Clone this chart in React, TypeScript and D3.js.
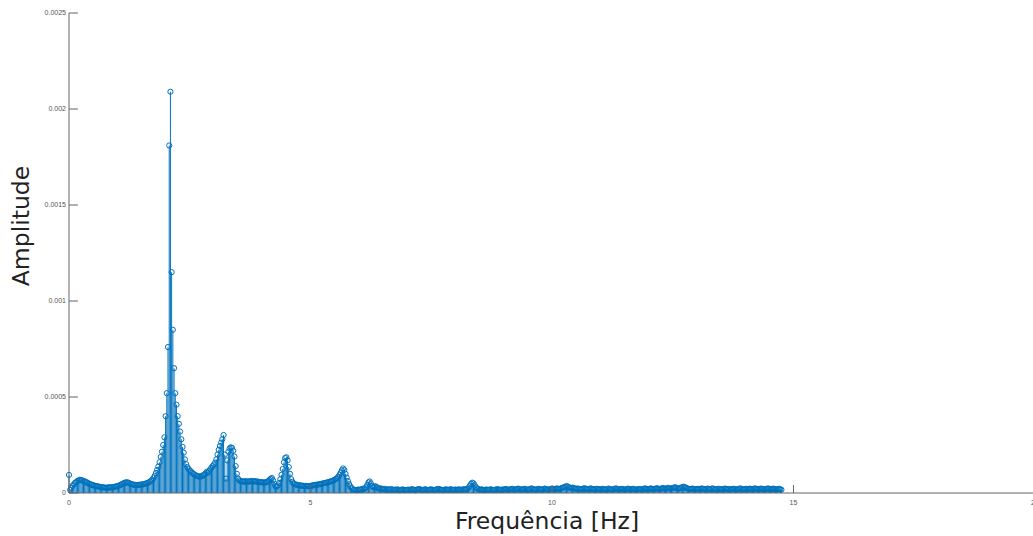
import React from "react";
import * as d3 from "d3";

// FFT magnitude spectrum, drawn as a stem plot.
const FREQ_STEP = 0.025; // Hz between bins
const AMP_UNIT = 1e-6; // bands below are listed in micro-units of amplitude

// 0.000 – 0.975 Hz
const band0 = [94, 16, 28, 38, 45, 53, 57, 63, 65, 69, 67, 66, 62, 61, 56, 55, 50, 48, 44, 43, 40, 39, 36, 36, 34, 33, 31, 31, 29, 29, 28, 27, 28, 30, 28, 30, 31, 30, 33, 34];
// 1.000 – 1.975 Hz
const band1 = [36, 38, 40, 43, 47, 50, 53, 55, 56, 54, 51, 48, 46, 44, 43, 42, 41, 42, 43, 43, 44, 45, 46, 48, 50, 52, 55, 59, 64, 70, 78, 90, 104, 120, 138, 160, 188, 215, 250, 290];
// 2.000 – 2.975 Hz
const band2 = [400, 520, 760, 1810, 2090, 1150, 850, 650, 520, 460, 400, 360, 320, 280, 240, 210, 175, 150, 135, 125, 118, 112, 106, 100, 96, 92, 89, 87, 85, 86, 88, 92, 96, 102, 110, 106, 115, 124, 132, 140];
// 3.000 – 3.975 Hz
const band3 = [148, 158, 175, 200, 225, 245, 262, 280, 302, 200, 75, 170, 215, 232, 238, 235, 220, 190, 140, 100, 75, 66, 62, 60, 61, 59, 62, 60, 58, 61, 60, 63, 61, 60, 62, 59, 60, 58, 56, 57];
// 4.000 – 4.975 Hz
const band4 = [55, 56, 54, 55, 58, 62, 68, 74, 78, 66, 48, 36, 34, 40, 52, 72, 95, 125, 160, 182, 186, 170, 135, 100, 72, 58, 50, 46, 44, 42, 41, 40, 38, 39, 37, 36, 37, 36, 35, 36];
// 5.000 – 5.975 Hz
const band5 = [37, 38, 40, 41, 42, 43, 44, 45, 46, 48, 49, 51, 52, 54, 55, 57, 59, 61, 63, 66, 69, 73, 78, 85, 94, 105, 118, 128, 120, 100, 80, 62, 46, 34, 26, 20, 17, 16, 15, 17];
// 6.000 – 6.975 Hz
const band6 = [18, 16, 19, 22, 20, 24, 30, 42, 55, 60, 50, 36, 30, 34, 35, 30, 24, 22, 25, 21, 19, 22, 18, 17, 20, 16, 18, 21, 17, 15, 18, 16, 19, 17, 14, 16, 19, 17, 15, 16];
// 7.000 – 7.975 Hz
const band7 = [16, 18, 15, 17, 20, 18, 16, 14, 17, 19, 21, 18, 16, 15, 17, 20, 17, 15, 16, 18, 19, 17, 15, 16, 18, 20, 22, 19, 17, 16, 15, 17, 19, 18, 16, 17, 20, 18, 16, 17];
// 8.000 – 8.975 Hz
const band8 = [18, 16, 17, 19, 17, 16, 18, 20, 19, 17, 22, 28, 38, 48, 54, 50, 40, 30, 24, 20, 18, 17, 19, 16, 15, 17, 18, 16, 17, 19, 18, 16, 15, 17, 19, 20, 18, 16, 17, 18];
// 9.000 – 9.975 Hz
const band9 = [17, 19, 21, 18, 16, 18, 20, 22, 19, 17, 18, 21, 23, 20, 18, 17, 19, 22, 20, 18, 16, 19, 21, 24, 21, 19, 17, 18, 20, 22, 19, 17, 18, 20, 23, 21, 18, 17, 19, 21];
// 10.000 – 10.975 Hz
const band10 = [20, 22, 19, 21, 24, 22, 20, 23, 26, 28, 30, 33, 36, 34, 30, 27, 25, 28, 26, 23, 21, 24, 22, 20, 19, 21, 23, 25, 22, 20, 19, 21, 24, 22, 20, 18, 20, 22, 21, 19];
// 11.000 – 11.975 Hz
const band11 = [18, 20, 22, 19, 17, 19, 21, 23, 20, 18, 17, 19, 22, 24, 21, 19, 18, 20, 22, 19, 17, 18, 21, 23, 20, 18, 19, 22, 20, 18, 17, 19, 21, 20, 18, 19, 22, 24, 21, 19];
// 12.000 – 12.975 Hz
const band12 = [20, 22, 24, 21, 19, 21, 23, 25, 22, 20, 22, 24, 26, 23, 21, 24, 27, 25, 22, 24, 26, 28, 30, 27, 24, 22, 25, 28, 31, 33, 30, 27, 24, 22, 20, 21, 23, 22, 20, 19];
// 13.000 – 13.975 Hz
const band13 = [20, 22, 19, 21, 24, 22, 20, 18, 21, 23, 20, 19, 22, 24, 21, 19, 17, 20, 22, 21, 19, 18, 20, 23, 22, 20, 19, 21, 18, 20, 22, 21, 19, 17, 20, 22, 24, 21, 19, 18];
// 14.000 – 14.750 Hz
const band14 = [20, 22, 19, 21, 23, 20, 18, 21, 24, 22, 20, 19, 21, 23, 22, 20, 18, 20, 22, 24, 21, 19, 20, 23, 21, 19, 18, 20, 22, 19, 17];

const amplitudes = [
  ...band0, ...band1, ...band2, ...band3, ...band4, ...band5, ...band6, ...band7,
  ...band8, ...band9, ...band10, ...band11, ...band12, ...band13, ...band14,
].map((v) => v * AMP_UNIT);

const points = amplitudes.map((a, i) => ({ f: i * FREQ_STEP, a }));

const xTicks = [0, 5, 10, 15, 20];
const yTicks = [0, 0.0005, 0.001, 0.0015, 0.002, 0.0025];
const yTickLabels = ["0", "0.0005", "0.001", "0.0015", "0.002", "0.0025"];

const W = 1033;
const H = 536;
const M = { left: 69, top: 13, right: -2, bottom: 43 };

const STEM = "#0072BD";
const AXIS = "#666666";
const TICK_TEXT = "#555555";

export default function App() {
  const x = d3.scaleLinear().domain([0, 20]).range([M.left, W - M.right]);
  const y = d3.scaleLinear().domain([0, 0.0025]).range([H - M.bottom, M.top]);
  const y0 = y(0);

  return (
    <svg
      width={W}
      height={H}
      style={{ position: "absolute", left: 0, top: 0, background: "#fff" }}
      fontFamily="'Liberation Sans', Arial, sans-serif"
    >
      {/* stems */}
      <g stroke={STEM} strokeWidth={1}>
        {points.map((p, i) => (
          <line key={i} x1={x(p.f)} x2={x(p.f)} y1={y0} y2={y(p.a)} />
        ))}
      </g>
      {/* open circle markers */}
      <g fill="none" stroke={STEM} strokeWidth={1}>
        {points.map((p, i) => (
          <circle key={i} cx={x(p.f)} cy={y(p.a)} r={2.6} />
        ))}
      </g>

      {/* y axis */}
      <line x1={M.left} x2={M.left} y1={y(0.0025)} y2={y0} stroke={AXIS} strokeWidth={1} />
      {yTicks.map((t, i) => (
        <g key={t}>
          <line x1={M.left} x2={M.left + 9} y1={y(t)} y2={y(t)} stroke={AXIS} strokeWidth={1} />
          <text
            x={M.left - 3}
            y={y(t)}
            dy="0.35em"
            textAnchor="end"
            fontSize={7}
            fill={TICK_TEXT}
          >
            {yTickLabels[i]}
          </text>
        </g>
      ))}

      {/* x axis */}
      <line x1={M.left} x2={W} y1={y0} y2={y0} stroke={AXIS} strokeWidth={1.2} />
      {xTicks.map((t) => (
        <g key={t}>
          <line x1={x(t)} x2={x(t)} y1={y0} y2={y0 - 8} stroke={AXIS} strokeWidth={1} />
          <text x={x(t)} y={y0 + 12} textAnchor="middle" fontSize={7} fill={TICK_TEXT}>
            {t}
          </text>
        </g>
      ))}

      {/* axis titles */}
      <text
        x={547}
        y={529}
        textAnchor="middle"
        fontSize={23.5}
        fontFamily="'DejaVu Sans', Verdana, sans-serif"
        fill="#222"
      >
        Frequência [Hz]
      </text>
      <text
        transform={`translate(29,226) rotate(-90)`}
        textAnchor="middle"
        fontSize={23.5}
        fontFamily="'DejaVu Sans', Verdana, sans-serif"
        fill="#222"
      >
        Amplitude
      </text>
    </svg>
  );
}
